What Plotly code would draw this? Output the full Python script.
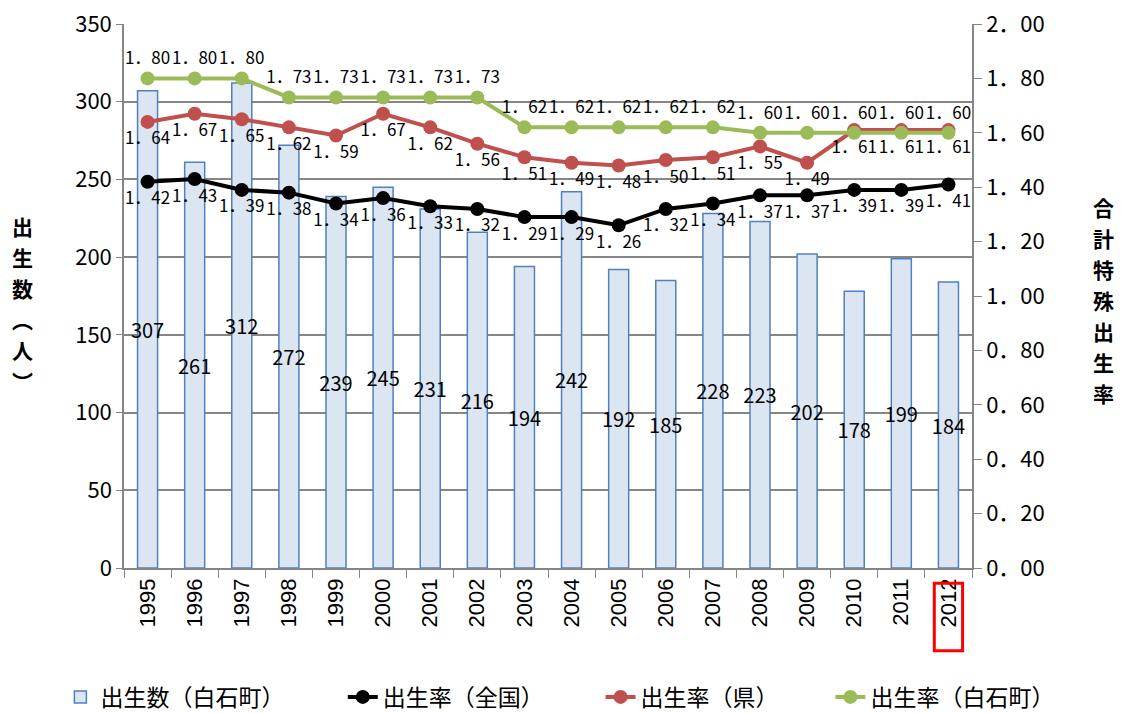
import plotly.graph_objects as go

# データ
years = [str(y) for y in range(1995, 2013)]
births = [307, 261, 312, 272, 239, 245, 231, 216, 194, 242, 192, 185, 228, 223, 202, 178, 199, 184]
rate_national = [1.42, 1.43, 1.39, 1.38, 1.34, 1.36, 1.33, 1.32, 1.29, 1.29, 1.26, 1.32, 1.34, 1.37, 1.37, 1.39, 1.39, 1.41]
rate_pref = [1.64, 1.67, 1.65, 1.62, 1.59, 1.67, 1.62, 1.56, 1.51, 1.49, 1.48, 1.50, 1.51, 1.55, 1.49, 1.61, 1.61, 1.61]
rate_town = [1.80, 1.80, 1.80, 1.73, 1.73, 1.73, 1.73, 1.73, 1.62, 1.62, 1.62, 1.62, 1.62, 1.60, 1.60, 1.60, 1.60, 1.60]

left_title = ["出", "生", "数", "︵", "人", "︶"]
right_title = ["合", "計", "特", "殊", "出", "生", "率"]

FONT = "Noto Sans CJK JP"
NARROW = "Liberation Sans Narrow, Noto Sans CJK JP"

fig = go.Figure()

# 出生数（棒）
fig.add_trace(go.Bar(
    x=years, y=births, name="出生数（白石町）", legend="legend",
    marker=dict(color="#DCE6F2", line=dict(color="#4F81BD", width=1.5)),
    text=births, textposition="inside", insidetextanchor="middle",
    textangle=0, constraintext="none",
    textfont=dict(color="black", size=20, family=NARROW),
))

# 出生率（折れ線）
lines = [
    ("出生率（全国）", rate_national, "black", "bottom center", "legend2"),
    ("出生率（県）", rate_pref, "#C0504D", "bottom center", "legend3"),
    ("出生率（白石町）", rate_town, "#9BBB59", "top center", "legend4"),
]
for name, vals, color, pos, lg in lines:
    fig.add_trace(go.Scatter(
        x=years, y=vals, name=name, yaxis="y2", legend=lg,
        mode="lines+markers+text",
        line=dict(color=color, width=4),
        marker=dict(color=color, size=14),
        text=vals, texttemplate="%{text:.2f}", textposition=pos,
        textfont=dict(color="black", size=17, family=NARROW),
    ))

# 縦書きの軸タイトル（1文字ずつ配置）
annotations = []
for i, ch in enumerate(left_title):
    annotations.append(dict(
        text=ch, xref="paper", yref="paper", x=-0.12, y=(568 - 226 - 31 * i) / 544,
        xanchor="center", yanchor="middle", showarrow=False,
        font=dict(size=21, family=FONT, color="black", weight="bold")))
for i, ch in enumerate(right_title):
    annotations.append(dict(
        text=ch, xref="paper", yref="paper", x=1.155, y=(568 - 207 - 31 * i) / 544,
        xanchor="center", yanchor="middle", showarrow=False,
        font=dict(size=21, family=FONT, color="black", weight="bold")))

# 凡例は項目ごとに位置指定
legend_style = dict(orientation="h", y=-0.237, yanchor="middle", xanchor="left",
                    font=dict(size=23, family=FONT), bgcolor="rgba(0,0,0,0)")

# ページ余白(8px)を差し引いたサイズ
fig.update_layout(
    width=1114, height=705,
    margin=dict(l=116, r=150, t=16, b=145, autoexpand=False),
    paper_bgcolor="white", plot_bgcolor="white",
    font=dict(family=FONT, color="black"),
    separators="．,",
    bargap=0.575,
    showlegend=True,
    legend=dict(x=-0.075, **legend_style),
    legend2=dict(x=0.258, **legend_style),
    legend3=dict(x=0.562, **legend_style),
    legend4=dict(x=0.833, **legend_style),
    xaxis=dict(
        type="category", range=[-0.5, 17.5], tickangle=-90, tickson="boundaries",
        automargin=False,
        ticks="outside", ticklen=8, tickcolor="#868686",
        showline=True, linecolor="#868686", linewidth=1.5,
        tickfont=dict(size=22, family="Liberation Sans"),
        showgrid=False,
    ),
    yaxis=dict(
        range=[0, 350], dtick=50, tickformat="d", automargin=False,
        ticklabeloverflow="allow",
        ticks="outside", ticklen=6, tickcolor="#868686",
        showline=True, linecolor="#868686", linewidth=1.5,
        gridcolor="#868686", gridwidth=1.5,
        tickfont=dict(size=22, family=NARROW),
        zeroline=False,
    ),
    yaxis2=dict(
        range=[0, 2], dtick=0.2, tickformat=".2f", overlaying="y", side="right",
        automargin=False, ticklabeloverflow="allow",
        ticks="outside", ticklen=8, tickcolor="#868686",
        showline=True, linecolor="#868686", linewidth=1.5,
        showgrid=False, zeroline=False,
        tickfont=dict(size=22, family=NARROW),
    ),
    annotations=annotations,
    shapes=[
        dict(type="rect", xref="x", yref="paper", x0=16.7, x1=17.3, y0=-0.028, y1=-0.152,
             line=dict(color="#FF0000", width=3)),
    ],
)

fig.write_html("out.html")
